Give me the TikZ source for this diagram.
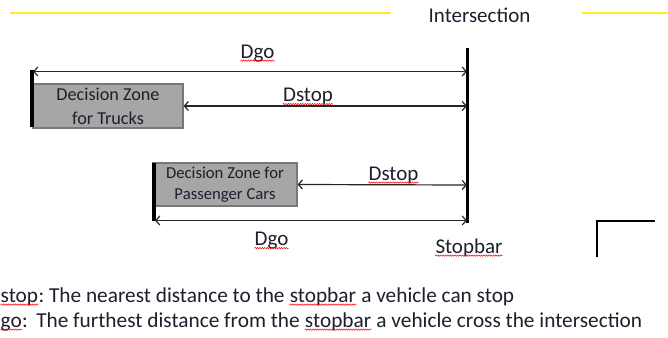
\documentclass[tikz,border=0pt]{standalone}
\usepackage{fontspec}
\setmainfont{Carlito}
\usetikzlibrary{arrows.meta,decorations.pathmorphing}
\definecolor{txt}{RGB}{30,30,45}
\definecolor{boxfill}{RGB}{166,166,166}
\definecolor{boxdraw}{RGB}{120,120,120}
\definecolor{roadyellow}{RGB}{255,235,40}
\tikzset{
  zone/.style={draw=boxdraw, line width=1.2pt, fill=boxfill, align=center, text=txt, inner sep=0pt},
  lbl/.style={inner sep=0pt, text=txt, anchor=base, font=\fontsize{21}{24}\selectfont},
  btxt/.style={inner sep=0pt, text=txt, anchor=base west, font=\fontsize{21.3}{24}\selectfont},
  dim/.style={line width=1.2pt, draw=black!85, {Straight Barb[length=4pt,width=9pt]}-{Straight Barb[length=4pt,width=9pt]}},
  bar/.style={line width=4pt, draw=black},
  spell/.style={draw=red, line width=0.5pt, decorate, decoration={snake, amplitude=0.7pt, segment length=2.4pt}},
  road/.style={draw=roadyellow, line width=1.2pt}
}
\newcommand\spellu[1]{\draw[spell] ([yshift=-2.6pt]#1.base west) -- ([yshift=-2.6pt]#1.base east);}
\begin{document}
\begin{tikzpicture}[x=1pt,y=-1pt]
\useasboundingbox (0,0) rectangle (668,337);
% road edges
\coordinate (y1a) at (10,13);
\coordinate (y1b) at (391,13);
\coordinate (y2a) at (582,13);
\coordinate (y2b) at (668,13);
\draw[road] (y1a) -- (y1b);
\draw[road] (y2a) -- (y2b);
\node[lbl] (inter) at (479.5,23) {Intersection};
% stopbar
\coordinate (sbT) at (467.5,48);
\coordinate (sbB) at (467.5,222.5);
\draw[line width=2.8pt] (sbT) -- (sbB);
% boxes
\node[zone, minimum width=150pt, minimum height=44pt, font=\fontsize{18.2}{24}\selectfont] (truck) at (108,106) {\raisebox{-2.5pt}{Decision Zone}\\\raisebox{-2.5pt}{for Trucks}};
\node[zone, minimum width=144pt, minimum height=43pt, font=\fontsize{16.7}{21}\selectfont] (car) at (225,184.5) {Decision Zone for\\Passenger Cars};
% thick left bars
\coordinate (tbT) at (32,70);
\coordinate (tbB) at (32,127);
\coordinate (cbT) at (153.5,163);
\coordinate (cbB) at (153.5,221);
\draw[bar] (tbT) -- (tbB);
\draw[bar] (cbT) -- (cbB);
% dimension arrows
\coordinate (dgo1L) at (33,71.5);
\coordinate (dgo1R) at (467,71.5);
\draw[dim] (dgo1L) -- (dgo1R);
\coordinate (ds1R) at (467,106);
\draw[dim] (truck.east) -- (ds1R);
\coordinate (ds2R) at (467,185);
\draw[dim] (car.east) -- (ds2R);
\coordinate (dgo2L) at (155,220.5);
\coordinate (dgo2R) at (467,220.5);
\draw[dim] (dgo2L) -- (dgo2R);
% labels
\node[lbl] (dgoA) at (257.5,58) {Dgo};
\node[lbl] (dstopA) at (308,101.5) {Dstop};
\node[lbl] (dstopB) at (393.5,180) {Dstop};
\node[lbl] (dgoB) at (271.5,245.5) {Dgo};
\node[lbl] (stopbar) at (469,253) {Stopbar};
\spellu{dgoA}
\spellu{dstopA}
\spellu{dstopB}
\spellu{dgoB}
\spellu{stopbar}
% corner
\coordinate (cnV) at (597,257);
\coordinate (cnC) at (597,221);
\coordinate (cnH) at (655,221);
\draw[line width=1.2pt] (cnV) -- (cnC) -- (cnH);
% bottom text
\node[btxt] (l1a) at (0.5,302) {stop};
\node[btxt] (l1b) at (l1a.base east) {:\ The nearest distance to the\ \mbox{}};
\node[btxt] (l1c) at (l1b.base east) {stopbar};
\node[btxt] (l1d) at (l1c.base east) {\ a vehicle can stop};
\node[btxt] (l2a) at (0.5,327) {go};
\node[btxt] (l2b) at (l2a.base east) {:\ \,The furthest distance from the\ \mbox{}};
\node[btxt] (l2c) at (l2b.base east) {stopbar};
\node[btxt] (l2d) at (l2c.base east) {\ a vehicle cross the intersection};
\spellu{l1a}
\spellu{l1c}
\spellu{l2a}
\spellu{l2c}
\end{tikzpicture}
\end{document}
